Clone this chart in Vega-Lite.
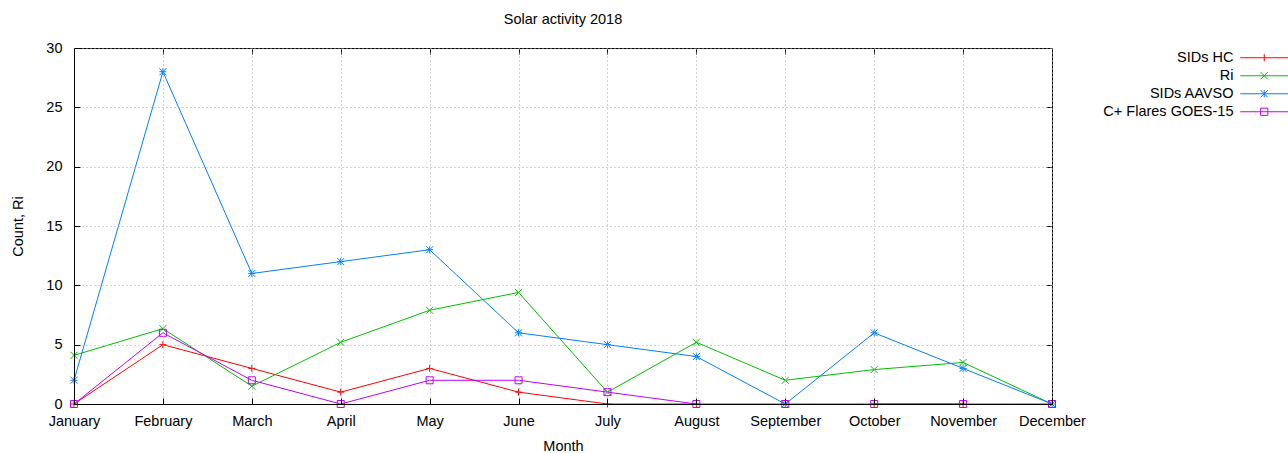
{
  "$schema": "https://vega.github.io/schema/vega-lite/v6.json",
  "width": 978,
  "height": 356,
  "autosize": {"type": "none"},
  "padding": {"left": 74, "top": 48, "right": 236, "bottom": 49},
  "background": "white",
  "title": {"text": "Solar activity 2018", "fontSize": 14.5, "font": "Liberation Sans", "fontWeight": "normal", "color": "black", "offset": 13, "anchor": "middle"},
  "config": {
    "view": {"stroke": "black", "strokeWidth": 1},
    "font": "Liberation Sans",
    "axis": {
      "labelFont": "Liberation Sans", "labelFontSize": 14.5, "labelColor": "black",
      "titleFont": "Liberation Sans", "titleFontSize": 14.5, "titleFontWeight": "normal", "titleColor": "black",
      "tickColor": "black", "tickSize": -6, "domain": false,
      "gridColor": "#a8a8a8", "gridDash": [1, 3], "gridWidth": 1
    },
    "point": {"filled": false, "strokeWidth": 1, "size": 49, "opacity": 1}
  },
  "data": {"values": [
    {"month": "January", "series": "SIDs HC", "value": 0},
    {"month": "February", "series": "SIDs HC", "value": 5},
    {"month": "March", "series": "SIDs HC", "value": 3},
    {"month": "April", "series": "SIDs HC", "value": 1},
    {"month": "May", "series": "SIDs HC", "value": 3},
    {"month": "June", "series": "SIDs HC", "value": 1},
    {"month": "July", "series": "SIDs HC", "value": 0},
    {"month": "August", "series": "SIDs HC", "value": 0},
    {"month": "September", "series": "SIDs HC", "value": null},
    {"month": "October", "series": "SIDs HC", "value": 0},
    {"month": "November", "series": "SIDs HC", "value": 0},
    {"month": "December", "series": "SIDs HC", "value": null},
    {"month": "January", "series": "Ri", "value": 4.1},
    {"month": "February", "series": "Ri", "value": 6.35},
    {"month": "March", "series": "Ri", "value": 1.5},
    {"month": "April", "series": "Ri", "value": 5.2},
    {"month": "May", "series": "Ri", "value": 7.9},
    {"month": "June", "series": "Ri", "value": 9.4},
    {"month": "July", "series": "Ri", "value": 1.0},
    {"month": "August", "series": "Ri", "value": 5.2},
    {"month": "September", "series": "Ri", "value": 2.0},
    {"month": "October", "series": "Ri", "value": 2.9},
    {"month": "November", "series": "Ri", "value": 3.5},
    {"month": "December", "series": "Ri", "value": 0},
    {"month": "January", "series": "SIDs AAVSO", "value": 2},
    {"month": "February", "series": "SIDs AAVSO", "value": 28},
    {"month": "March", "series": "SIDs AAVSO", "value": 11},
    {"month": "April", "series": "SIDs AAVSO", "value": 12},
    {"month": "May", "series": "SIDs AAVSO", "value": 13},
    {"month": "June", "series": "SIDs AAVSO", "value": 6},
    {"month": "July", "series": "SIDs AAVSO", "value": 5},
    {"month": "August", "series": "SIDs AAVSO", "value": 4},
    {"month": "September", "series": "SIDs AAVSO", "value": 0},
    {"month": "October", "series": "SIDs AAVSO", "value": 6},
    {"month": "November", "series": "SIDs AAVSO", "value": 3},
    {"month": "December", "series": "SIDs AAVSO", "value": 0},
    {"month": "January", "series": "C+ Flares GOES-15", "value": 0},
    {"month": "February", "series": "C+ Flares GOES-15", "value": 6},
    {"month": "March", "series": "C+ Flares GOES-15", "value": 2},
    {"month": "April", "series": "C+ Flares GOES-15", "value": 0},
    {"month": "May", "series": "C+ Flares GOES-15", "value": 2},
    {"month": "June", "series": "C+ Flares GOES-15", "value": 2},
    {"month": "July", "series": "C+ Flares GOES-15", "value": 1},
    {"month": "August", "series": "C+ Flares GOES-15", "value": 0},
    {"month": "September", "series": "C+ Flares GOES-15", "value": 0},
    {"month": "October", "series": "C+ Flares GOES-15", "value": 0},
    {"month": "November", "series": "C+ Flares GOES-15", "value": 0},
    {"month": "December", "series": "C+ Flares GOES-15", "value": 0}
  ]},
  "encoding": {
    "x": {"field": "month", "type": "ordinal",
      "scale": {"type": "point", "padding": 0, "domain": ["January", "February", "March", "April", "May", "June", "July", "August", "September", "October", "November", "December"]},
      "axis": null},
    "y": {"field": "value", "type": "quantitative",
      "scale": {"domain": [0, 30], "nice": false, "zero": true}, "axis": null},
    "color": {"field": "series", "type": "nominal",
      "scale": {"domain": ["SIDs HC", "Ri", "SIDs AAVSO", "C+ Flares GOES-15"], "range": ["#ff0000", "#00c000", "#0080ff", "#c000ff"]},
      "legend": null}
  },
  "layer": [
    {
      "mark": {"type": "line", "strokeWidth": 1},
      "encoding": {
        "x": {"field": "month", "type": "ordinal",
          "axis": {"orient": "bottom", "title": "Month", "labelAngle": 0, "grid": true, "labelPadding": 16, "titlePadding": 12, "labelOverlap": false, "labelFlush": false, "domain": true, "domainColor": "black", "domainWidth": 1, "zindex": 1}},
        "y": {"field": "value", "type": "quantitative",
          "axis": {"orient": "left", "title": "Count, Ri", "values": [0, 5, 10, 15, 20, 25, 30], "grid": true, "labelPadding": 18, "titlePadding": 20, "domain": true, "domainColor": "black", "domainWidth": 1, "zindex": 1}},
        "color": {"field": "series", "type": "nominal",
          "legend": {"orient": "none", "legendX": 1183, "legendY": 2.5, "title": null,
            "labelFontSize": 14.5, "labelFont": "Liberation Sans", "labelColor": "black",
            "labelAlign": "right", "labelOffset": -38, "symbolSize": 144, "symbolStrokeWidth": 1,
            "symbolFillColor": "transparent", "rowPadding": 3, "padding": 0,
            "encode": {"symbols": {"update": {
              "fill": {"value": "transparent"},
              "shape": {"signal": "datum.value === 'SIDs HC' ? 'M-4,0H4M0,-0.6V0.6' : datum.value === 'Ri' ? 'M-4,0H4M-0.6,-0.6L0.6,0.6M-0.6,0.6L0.6,-0.6' : datum.value === 'SIDs AAVSO' ? 'M-4,0H4M0,-0.6V0.6M-0.6,-0.6L0.6,0.6M-0.6,0.6L0.6,-0.6' : 'M-4,0H4M-0.6,-0.6H0.6V0.6H-0.6Z'"}
            }}}}
        }
      }
    },
    {
      "transform": [{"filter": "datum.series === 'SIDs HC'"}],
      "mark": {"type": "point", "shape": "M-1,0H1M0,-1V1"},
      "encoding": {
        "x": {"field": "month", "type": "ordinal",
          "axis": {"orient": "top", "title": null, "labels": false, "grid": false}},
        "y": {"field": "value", "type": "quantitative",
          "axis": {"orient": "right", "title": null, "labels": false, "grid": false, "values": [0, 5, 10, 15, 20, 25, 30]}}
      }
    },
    {
      "transform": [{"filter": "datum.series === 'Ri'"}],
      "mark": {"type": "point", "shape": "M-1,-1L1,1M-1,1L1,-1"}
    },
    {
      "transform": [{"filter": "datum.series === 'SIDs AAVSO'"}],
      "mark": {"type": "point", "shape": "M-1,0H1M0,-1V1M-1,-1L1,1M-1,1L1,-1"}
    },
    {
      "transform": [{"filter": "datum.series === 'C+ Flares GOES-15'"}],
      "mark": {"type": "point", "shape": "M-1,-1H1V1H-1Z"}
    }
  ],
  "resolve": {"axis": {"x": "independent", "y": "independent"}}
}
